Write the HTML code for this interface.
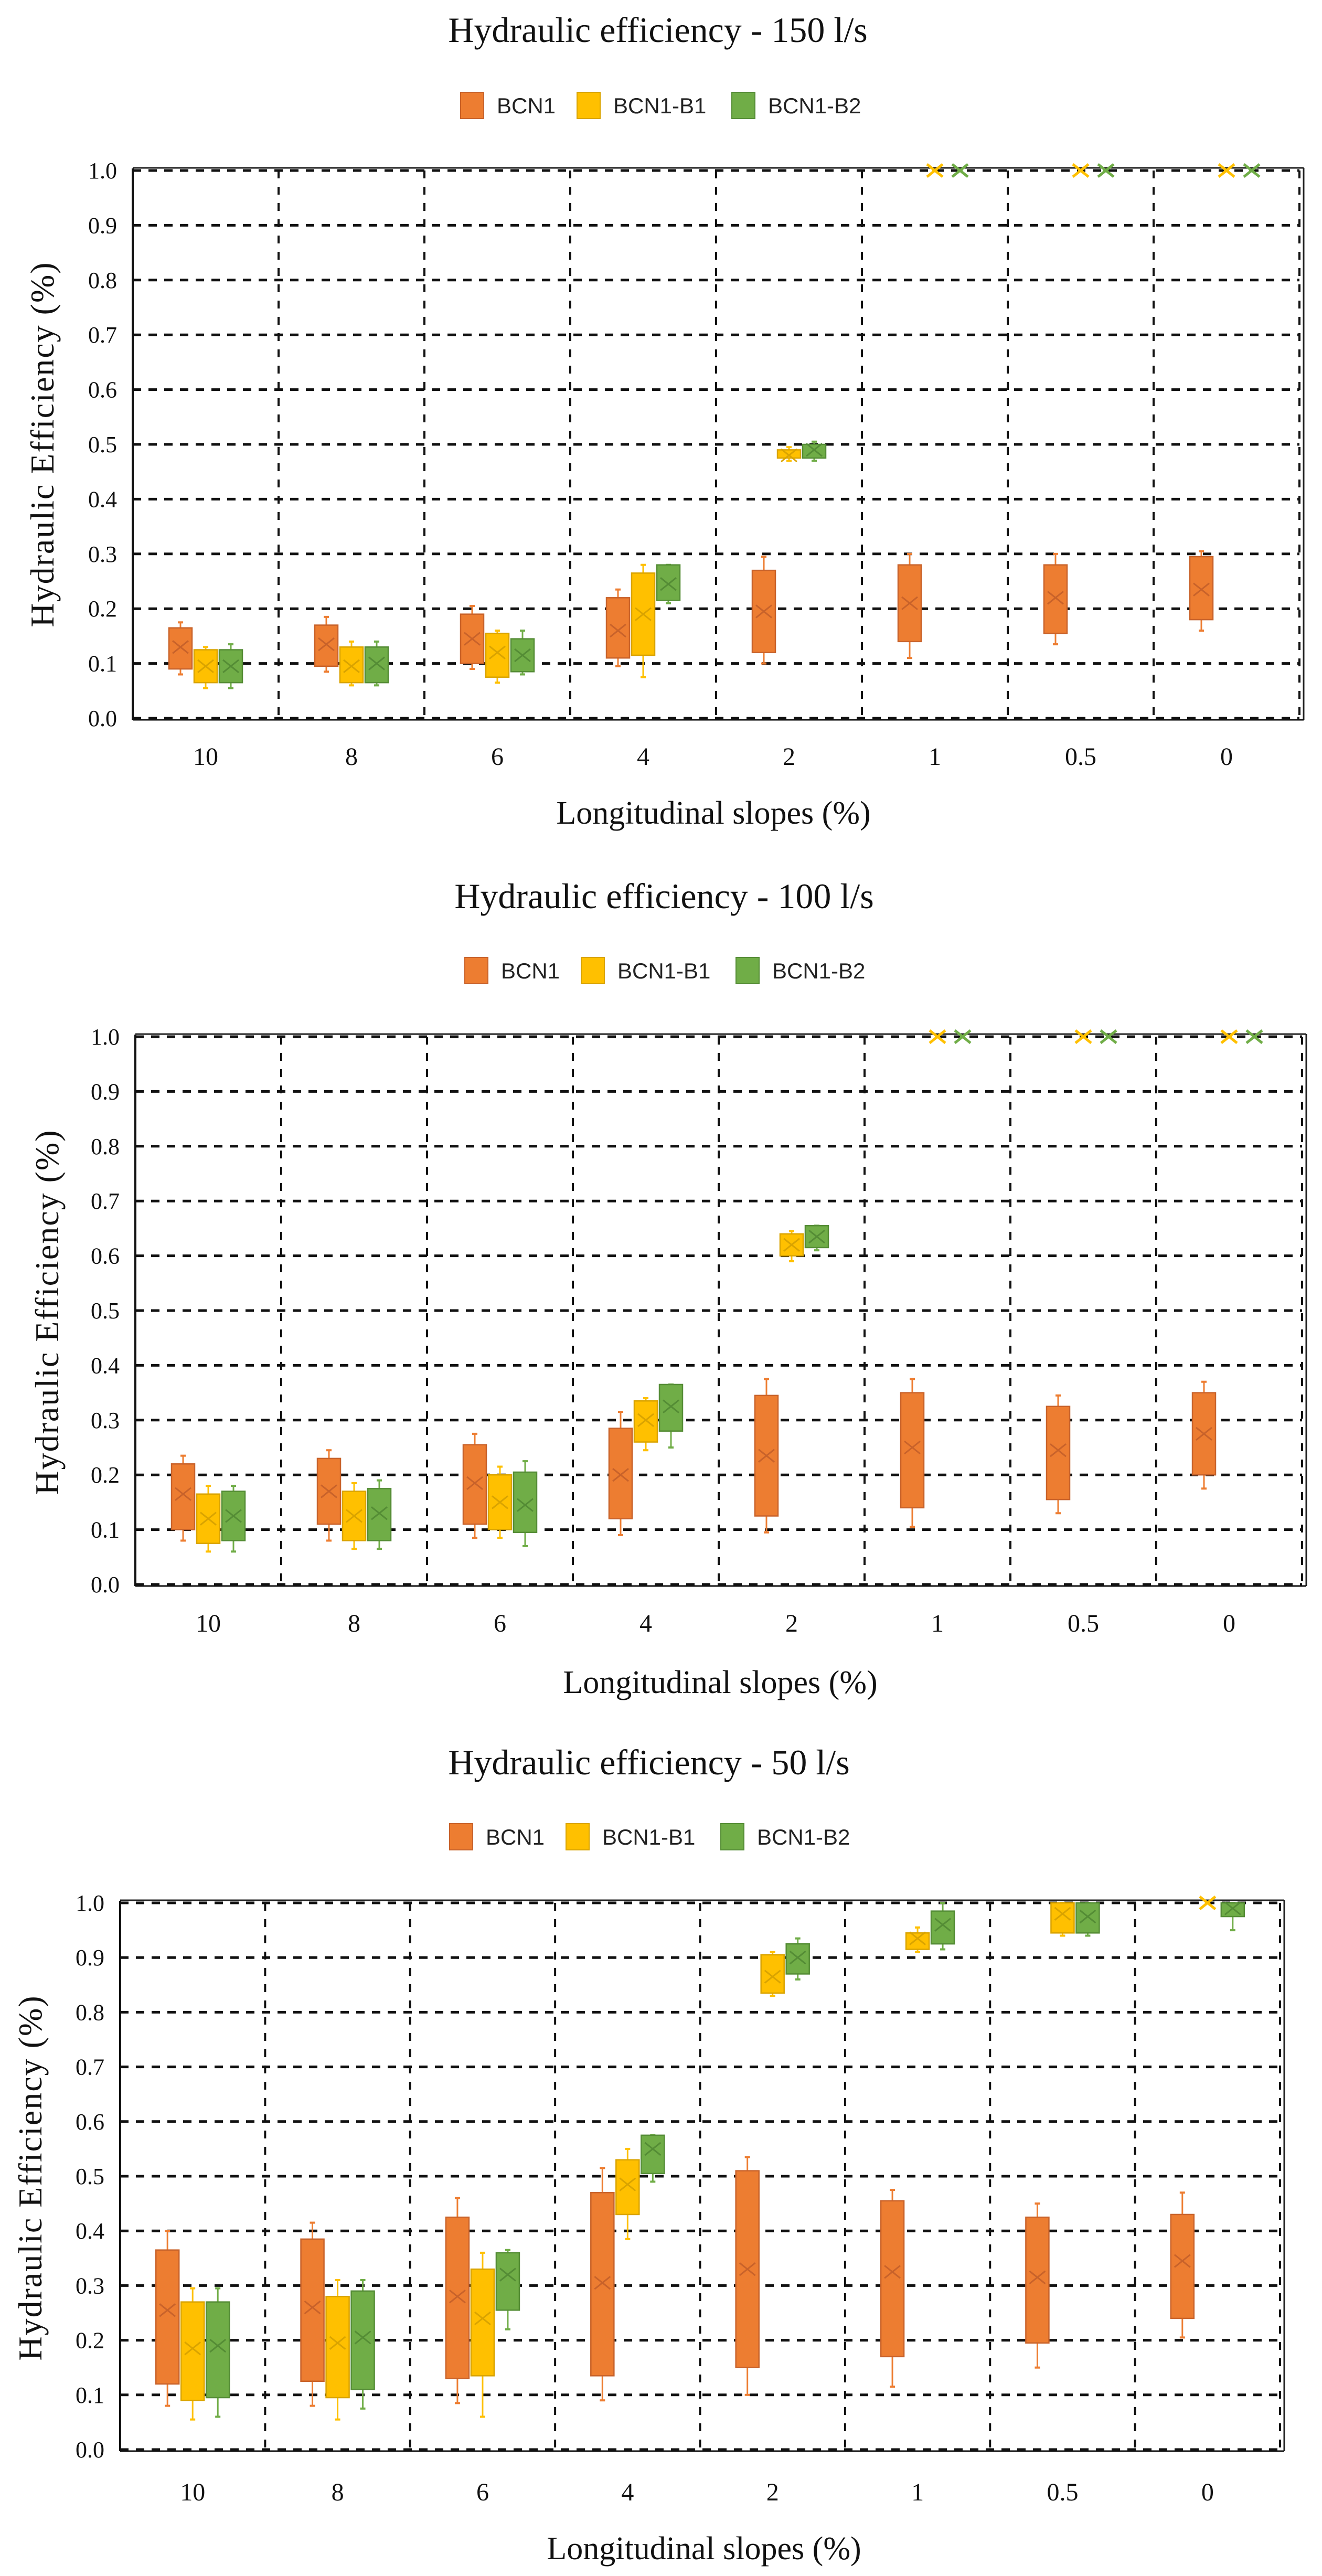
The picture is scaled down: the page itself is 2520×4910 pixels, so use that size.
<!DOCTYPE html>
<html><head><meta charset="utf-8"><title>Hydraulic efficiency</title>
<style>
html,body{margin:0;padding:0;background:#fff;}
svg{display:block;}
</style></head>
<body>
<svg id="fig" width="2520" height="4910" viewBox="0 0 2520 4910" xmlns="http://www.w3.org/2000/svg"></svg>
<script>
// ---------- data ----------
const categories = ["10","8","6","4","2","1","0.5","0"];
const seriesNames = ["BCN1","BCN1-B1","BCN1-B2"];
const yTicks = ["0.0","0.1","0.2","0.3","0.4","0.5","0.6","0.7","0.8","0.9","1.0"];
const chartTitles = ["Hydraulic  efficiency  - 150 l/s","Hydraulic  efficiency  - 100 l/s","Hydraulic  efficiency  - 50 l/s"];

// Chart 1 (150 l/s)
const c1_bcn1_min  = [0.08,0.085,0.09,0.095,0.10,0.11,0.135,0.16];
const c1_bcn1_q1   = [0.09,0.095,0.10,0.11,0.12,0.14,0.155,0.18];
const c1_bcn1_q3   = [0.165,0.17,0.19,0.22,0.27,0.28,0.28,0.295];
const c1_bcn1_max  = [0.175,0.185,0.205,0.235,0.295,0.30,0.30,0.305];
const c1_bcn1_mean = [0.13,0.135,0.145,0.16,0.195,0.21,0.22,0.235];
const c1_b1_min  = [0.055,0.06,0.065,0.075,0.47,1,1,1];
const c1_b1_q1   = [0.065,0.065,0.075,0.115,0.475,1,1,1];
const c1_b1_q3   = [0.125,0.13,0.155,0.265,0.49,1,1,1];
const c1_b1_max  = [0.13,0.14,0.16,0.28,0.495,1,1,1];
const c1_b1_mean = [0.095,0.095,0.12,0.19,0.48,1,1,1];
const c1_b2_min  = [0.055,0.06,0.08,0.21,0.47,1,1,1];
const c1_b2_q1   = [0.065,0.065,0.085,0.215,0.475,1,1,1];
const c1_b2_q3   = [0.125,0.13,0.145,0.28,0.50,1,1,1];
const c1_b2_max  = [0.135,0.14,0.16,0.28,0.505,1,1,1];
const c1_b2_mean = [0.095,0.10,0.115,0.245,0.49,1,1,1];

// Chart 2 (100 l/s)
const c2_bcn1_min  = [0.08,0.08,0.085,0.09,0.095,0.105,0.13,0.175];
const c2_bcn1_q1   = [0.10,0.11,0.11,0.12,0.125,0.14,0.155,0.20];
const c2_bcn1_q3   = [0.22,0.23,0.255,0.285,0.345,0.35,0.325,0.35];
const c2_bcn1_max  = [0.235,0.245,0.275,0.315,0.375,0.375,0.345,0.37];
const c2_bcn1_mean = [0.165,0.17,0.185,0.20,0.235,0.25,0.245,0.275];
const c2_b1_min  = [0.06,0.065,0.085,0.245,0.59,1,1,1];
const c2_b1_q1   = [0.075,0.08,0.10,0.26,0.60,1,1,1];
const c2_b1_q3   = [0.165,0.17,0.20,0.335,0.64,1,1,1];
const c2_b1_max  = [0.18,0.185,0.215,0.34,0.645,1,1,1];
const c2_b1_mean = [0.12,0.125,0.15,0.30,0.62,1,1,1];
const c2_b2_min  = [0.06,0.065,0.07,0.25,0.61,1,1,1];
const c2_b2_q1   = [0.08,0.08,0.095,0.28,0.615,1,1,1];
const c2_b2_q3   = [0.17,0.175,0.205,0.365,0.655,1,1,1];
const c2_b2_max  = [0.18,0.19,0.225,0.365,0.655,1,1,1];
const c2_b2_mean = [0.125,0.13,0.145,0.325,0.635,1,1,1];

// Chart 3 (50 l/s)
const c3_bcn1_min  = [0.08,0.08,0.085,0.09,0.10,0.115,0.15,0.205];
const c3_bcn1_q1   = [0.12,0.125,0.13,0.135,0.15,0.17,0.195,0.24];
const c3_bcn1_q3   = [0.365,0.385,0.425,0.47,0.51,0.455,0.425,0.43];
const c3_bcn1_max  = [0.40,0.415,0.46,0.515,0.535,0.475,0.45,0.47];
const c3_bcn1_mean = [0.255,0.26,0.28,0.305,0.33,0.325,0.315,0.345];
const c3_b1_min  = [0.055,0.055,0.06,0.385,0.83,0.91,0.94,1];
const c3_b1_q1   = [0.09,0.095,0.135,0.43,0.835,0.915,0.945,1];
const c3_b1_q3   = [0.27,0.28,0.33,0.53,0.905,0.945,1,1];
const c3_b1_max  = [0.295,0.31,0.36,0.55,0.91,0.955,1,1];
const c3_b1_mean = [0.185,0.195,0.24,0.485,0.865,0.935,0.98,1];
const c3_b2_min  = [0.06,0.075,0.22,0.49,0.86,0.915,0.94,0.95];
const c3_b2_q1   = [0.095,0.11,0.255,0.505,0.87,0.925,0.945,0.975];
const c3_b2_q3   = [0.27,0.29,0.36,0.575,0.925,0.985,1,1];
const c3_b2_max  = [0.295,0.31,0.365,0.575,0.935,1,1,1];
const c3_b2_mean = [0.19,0.205,0.32,0.55,0.90,0.96,0.975,0.99];

// ---------- layout ----------
const layouts = [
  {left:253, right:2477, top:325, bottom:1369, titleX:1254, titleY:80, legY:201, legDX:0, yTitleX:80, yTitleY:847, xTitleX:1360, xTitleY:1570, xLabY:1458},
  {left:258, right:2482, top:1976, bottom:3020, titleX:1266, titleY:1731, legY:1850, legDX:8, yTitleX:89, yTitleY:2501, xTitleX:1373, xTitleY:3227, xLabY:3110},
  {left:229, right:2440, top:3627, bottom:4669, titleX:1237, titleY:3382, legY:3501, legDX:-21, yTitleX:57, yTitleY:4151, xTitleX:1342, xTitleY:4878, xLabY:4766}
];
const chartData = [
  [[c1_bcn1_min,c1_bcn1_q1,c1_bcn1_q3,c1_bcn1_max,c1_bcn1_mean],[c1_b1_min,c1_b1_q1,c1_b1_q3,c1_b1_max,c1_b1_mean],[c1_b2_min,c1_b2_q1,c1_b2_q3,c1_b2_max,c1_b2_mean]],
  [[c2_bcn1_min,c2_bcn1_q1,c2_bcn1_q3,c2_bcn1_max,c2_bcn1_mean],[c2_b1_min,c2_b1_q1,c2_b1_q3,c2_b1_max,c2_b1_mean],[c2_b2_min,c2_b2_q1,c2_b2_q3,c2_b2_max,c2_b2_mean]],
  [[c3_bcn1_min,c3_bcn1_q1,c3_bcn1_q3,c3_bcn1_max,c3_bcn1_mean],[c3_b1_min,c3_b1_q1,c3_b1_q3,c3_b1_max,c3_b1_mean],[c3_b2_min,c3_b2_q1,c3_b2_q3,c3_b2_max,c3_b2_mean]]
];
const fills = ["#ED7D31","#FFC000","#70AD47"];
const strokes = ["#C8622A","#D9A300","#548C35"];
const chartNames = ["chart-150","chart-100","chart-50"];

const NS = "http://www.w3.org/2000/svg";
const svg = document.getElementById("fig");
function mk(tag, attrs, parent){
  const e = document.createElementNS(NS, tag);
  for (const k in attrs) e.setAttribute(k, attrs[k]);
  (parent||svg).appendChild(e);
  return e;
}

layouts.forEach((L, ci) => {
  const g = mk("g", {});
  
  
  const yS = v => L.bottom - v * (L.bottom - L.top);
  const bw = (L.right - L.left) / categories.length;
  const xC = i => L.left + bw * (i + 0.5);

  const t = mk("text", {x:L.titleX, y:L.titleY, "text-anchor":"middle", "font-family":"Liberation Serif, serif", "font-size":68, fill:"#111", "xml:space":"preserve"}, g);
  t.textContent = chartTitles[ci];
  
  

  const legX = [878, 1100, 1395];
  seriesNames.forEach((s, si) => {
    const lg = mk("g", {}, g);
    
    
    mk("rect", {x:legX[si]+L.legDX, y:L.legY-25, width:44, height:50, fill:fills[si], stroke:strokes[si], "stroke-width":2}, lg);
    const lt = mk("text", {x:legX[si]+L.legDX+69, y:L.legY+15, "font-family":"Liberation Sans, sans-serif", "font-size":42, fill:"#222"}, lg);
    lt.textContent = s;
  });

  const grid = mk("g", {}, g);
  
  
  yTicks.forEach((tk, i) => {
    const v = i / 10;
    mk("line", {x1:L.left, x2:L.right, y1:yS(v), y2:yS(v), stroke:"#111", "stroke-width":5, "stroke-dasharray":"16 14"}, grid);
    const tl = mk("text", {x:L.left-30, y:yS(v)+15, "text-anchor":"end", "font-family":"Liberation Serif, serif", "font-size":44, fill:"#111"}, g);
    tl.textContent = tk;
    
    
  });
  for (let i = 1; i <= categories.length; i++) {
    const x = L.left + bw * i;
    mk("line", {x1:x, x2:x, y1:L.top, y2:L.bottom, stroke:"#111", "stroke-width":4, "stroke-dasharray":"15 16"}, grid);
  }
  mk("line", {x1:L.left, x2:L.left, y1:L.top-4, y2:L.bottom+3, stroke:"#111", "stroke-width":4}, g);
  mk("line", {x1:L.left, x2:L.right+8, y1:L.top-5, y2:L.top-5, stroke:"#222", "stroke-width":3}, g);
  mk("line", {x1:L.right+8, x2:L.right+8, y1:L.top-5, y2:L.bottom+3, stroke:"#222", "stroke-width":3}, g);
  mk("line", {x1:L.left, x2:L.right+8, y1:L.bottom+3, y2:L.bottom+3, stroke:"#111", "stroke-width":3}, g);

  categories.forEach((c, i) => {
    const xl = mk("text", {x:xC(i), y:L.xLabY, "text-anchor":"middle", "font-family":"Liberation Serif, serif", "font-size":48, fill:"#111"}, g);
    xl.textContent = c;
    
    
  });
  const xt = mk("text", {x:L.xTitleX, y:L.xTitleY, "text-anchor":"middle", "font-family":"Liberation Serif, serif", "font-size":62, fill:"#111"}, g);
  xt.textContent = "Longitudinal slopes (%)";
  
  
  const yt = mk("text", {x:0, y:0, "text-anchor":"middle", "font-family":"Liberation Serif, serif", "font-size":64, fill:"#111", "letter-spacing":2, transform:`translate(${L.yTitleX+22},${L.yTitleY}) rotate(-90)`}, g);
  yt.textContent = "Hydraulic Efficiency (%)";
  
  

  const boxW = 44, off = 48;
  chartData[ci].forEach((ser, si) => {
    const [mnA, q1A, q3A, mxA, meanA] = ser;
    categories.forEach((c, i) => {
      const mn = mnA[i], q1 = q1A[i], q3 = q3A[i], mx = mxA[i], mean = meanA[i];
      const cx = xC(i) + (si - 1) * off;
      const bg = mk("g", {}, g);
      
      
      const col = fills[si], sc = strokes[si];
      mk("line", {x1:cx, x2:cx, y1:yS(mx), y2:yS(q3), stroke:col, "stroke-width":3}, bg);
      mk("line", {x1:cx, x2:cx, y1:yS(q1), y2:yS(mn), stroke:col, "stroke-width":3}, bg);
      mk("line", {x1:cx-5, x2:cx+5, y1:yS(mx), y2:yS(mx), stroke:col, "stroke-width":4}, bg);
      mk("line", {x1:cx-5, x2:cx+5, y1:yS(mn), y2:yS(mn), stroke:col, "stroke-width":4}, bg);
      const h = yS(q1) - yS(q3);
      if (h > 0.5) {
        mk("rect", {x:cx-boxW/2, y:yS(q3), width:boxW, height:h, fill:col, stroke:sc, "stroke-width":2.5}, bg);
      }
      const m = yS(mean), r = 15;
      mk("path", {d:`M${cx-r},${m-r*0.8} L${cx+r},${m+r*0.8} M${cx-r},${m+r*0.8} L${cx+r},${m-r*0.8}`, stroke:(h>0.5?sc:col), "stroke-width":(h>0.5?3:5), fill:"none"}, bg);
    });
  });
});
</script>
</body></html>
